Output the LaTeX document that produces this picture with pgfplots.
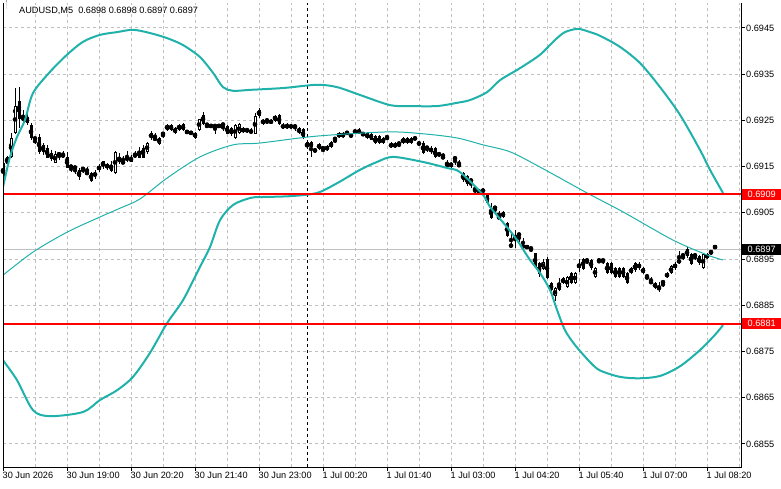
\documentclass[border=0pt]{standalone}
\usepackage{pgfplots}
\pgfplotsset{compat=1.18}
\usepackage{pgfplotstable}
\usepackage{fontspec}
\setmainfont{Liberation Sans}
\definecolor{band}{RGB}{32,178,170}
\definecolor{gridc}{RGB}{192,192,192}
\newcommand{\tf}{\fontsize{9.2}{11}\selectfont}

% prices in units of 0.0001 (6909 = 0.6909); x = bar index (5 min bars from 30 Jun 17:40)
\pgfplotstableread{
i o h l c
0 6912.7 6917.1 6911.0 6916.0
1 6917.1 6917.5 6915.1 6915.6
2 6917.1 6922.3 6916.9 6921.2
3 6922.3 6932.2 6922.1 6928.1
4 6929.2 6932.2 6923.4 6925.3
5 6926.2 6927.3 6924.4 6925.1
6 6925.7 6926.8 6924.0 6924.4
7 6924.0 6924.6 6920.8 6921.2
8 6921.2 6921.3 6919.9 6921.0
9 6921.4 6922.1 6917.9 6918.2
10 6919.7 6920.1 6917.5 6918.2
11 6919.2 6919.7 6916.9 6917.1
12 6918.2 6918.6 6916.4 6916.9
13 6916.0 6918.4 6915.8 6917.9
14 6917.7 6918.2 6916.4 6917.9
15 6917.1 6918.4 6916.9 6917.9
16 6917.1 6918.2 6914.7 6914.9
17 6915.1 6915.3 6913.8 6915.0
18 6914.9 6915.1 6913.6 6914.8
19 6914.3 6914.7 6912.1 6912.7
20 6914.7 6914.9 6913.8 6914.6
21 6913.8 6914.9 6913.6 6913.7
22 6913.8 6914.0 6911.9 6912.1
23 6913.0 6914.3 6912.5 6913.8
24 6915.1 6915.6 6913.8 6914.5
25 6915.1 6916.4 6914.7 6916.2
26 6915.6 6916.0 6914.5 6914.7
27 6915.6 6916.2 6913.8 6914.3
28 6913.8 6918.4 6913.6 6918.2
29 6917.1 6917.9 6915.6 6916.0
30 6916.0 6917.3 6915.8 6915.9
31 6916.4 6918.4 6916.0 6917.1
32 6916.2 6917.5 6916.0 6917.1
33 6917.9 6918.4 6916.9 6917.1
34 6918.6 6919.2 6916.9 6917.1
35 6919.2 6919.7 6916.9 6917.1
36 6918.2 6920.5 6917.9 6920.1
37 6921.2 6922.7 6920.8 6922.3
38 6921.0 6922.3 6920.8 6920.9
39 6920.1 6921.6 6919.9 6921.4
40 6922.3 6922.5 6921.2 6922.2
41 6924.2 6924.4 6922.9 6923.1
42 6924.2 6924.4 6922.9 6923.1
43 6922.3 6923.6 6922.1 6923.4
44 6924.2 6924.4 6922.9 6923.1
45 6924.2 6924.4 6922.7 6922.9
46 6922.3 6922.9 6922.1 6922.7
47 6922.3 6922.4 6922.2 6922.3
48 6921.4 6922.7 6921.2 6922.5
49 6923.1 6925.5 6922.9 6925.3
50 6926.2 6926.8 6924.0 6924.2
51 6924.0 6924.6 6923.8 6923.9
52 6924.2 6924.4 6923.4 6923.6
53 6924.2 6924.4 6922.3 6923.6
54 6924.2 6924.4 6923.4 6923.6
55 6924.2 6924.4 6922.9 6924.1
56 6924.0 6924.2 6922.1 6922.3
57 6923.4 6923.6 6921.8 6922.1
58 6921.2 6924.4 6921.0 6924.2
59 6922.3 6924.4 6922.1 6924.2
60 6923.4 6923.6 6922.3 6922.5
61 6923.1 6923.4 6922.3 6923.0
62 6922.3 6923.4 6922.1 6923.1
63 6922.3 6926.6 6922.1 6926.2
64 6927.3 6927.7 6925.7 6926.0
65 6925.3 6925.5 6924.2 6924.4
66 6925.1 6925.3 6924.4 6925.0
67 6924.4 6925.3 6924.2 6925.1
68 6926.2 6926.4 6924.9 6925.1
69 6926.2 6926.4 6924.0 6924.2
70 6923.4 6924.4 6923.1 6924.2
71 6923.4 6924.6 6923.2 6924.2
72 6923.4 6924.4 6923.2 6924.2
73 6923.3 6924.3 6922.9 6924.1
74 6923.4 6923.6 6922.1 6922.3
75 6923.1 6923.4 6921.0 6921.2
76 6920.3 6920.5 6918.8 6919.2
77 6920.3 6920.5 6917.1 6919.2
78 6918.6 6918.7 6918.5 6918.6
79 6919.0 6920.3 6918.8 6920.1
80 6919.0 6919.2 6918.2 6918.9
81 6918.6 6919.7 6918.4 6919.5
82 6919.2 6920.5 6919.0 6920.3
83 6921.0 6921.2 6920.3 6920.9
84 6922.3 6922.5 6921.2 6921.4
85 6922.3 6922.5 6921.2 6921.4
86 6922.3 6922.4 6922.2 6922.3
87 6921.8 6922.0 6921.7 6921.8
88 6922.7 6923.1 6922.1 6922.7
89 6923.1 6923.4 6922.1 6922.3
90 6922.1 6922.7 6921.8 6922.0
91 6922.3 6922.5 6921.0 6921.2
92 6922.3 6922.5 6920.8 6921.0
93 6921.6 6921.8 6919.9 6920.1
94 6921.6 6921.8 6919.9 6920.1
95 6921.2 6921.4 6919.9 6920.1
96 6921.4 6921.8 6921.2 6921.3
97 6920.1 6920.3 6919.0 6919.2
98 6920.1 6920.3 6919.0 6919.2
99 6920.1 6920.3 6919.2 6920.0
100 6921.2 6921.4 6919.9 6920.1
101 6921.2 6921.4 6919.9 6920.1
102 6921.2 6921.4 6919.9 6920.1
103 6921.2 6921.3 6921.1 6921.2
104 6920.1 6920.2 6920.0 6920.1
105 6920.1 6920.5 6917.7 6917.9
106 6919.2 6919.5 6918.2 6919.1
107 6919.2 6919.5 6917.9 6918.2
108 6919.0 6919.2 6916.9 6917.1
109 6917.9 6918.2 6917.1 6917.8
110 6917.1 6918.2 6916.9 6917.0
111 6916.0 6916.4 6914.9 6915.1
112 6915.1 6916.2 6914.9 6916.0
113 6916.9 6917.1 6915.4 6916.8
114 6915.4 6916.4 6915.1 6915.3
115 6913.6 6914.0 6911.9 6912.1
116 6913.0 6913.2 6910.8 6911.2
117 6912.1 6912.3 6910.6 6912.0
118 6910.2 6910.4 6909.3 6910.1
119 6909.3 6910.2 6909.1 6910.0
120 6909.5 6910.4 6909.3 6910.2
121 6908.9 6909.1 6906.9 6907.1
122 6906.3 6907.3 6903.7 6904.1
123 6906.3 6906.5 6905.0 6906.2
124 6904.1 6905.6 6903.9 6904.0
125 6905.2 6905.4 6903.9 6904.1
126 6902.8 6903.2 6899.8 6900.0
127 6898.0 6900.6 6897.8 6897.9
128 6900.2 6901.3 6897.4 6899.1
129 6900.4 6900.6 6898.7 6900.3
130 6897.8 6899.5 6897.6 6897.7
131 6897.4 6898.2 6897.2 6898.0
132 6897.4 6897.5 6896.7 6897.3
133 6896.3 6896.5 6893.1 6893.3
134 6894.1 6894.4 6891.1 6891.8
135 6893.1 6895.2 6892.8 6894.4
136 6895.2 6895.4 6890.7 6891.1
137 6889.8 6890.0 6888.1 6888.3
138 6887.0 6889.2 6886.1 6888.7
139 6889.8 6890.9 6888.1 6888.3
140 6889.8 6891.1 6889.6 6890.9
141 6888.9 6891.3 6888.7 6891.1
142 6892.0 6892.2 6889.8 6890.0
143 6890.0 6892.2 6889.8 6892.0
144 6893.1 6895.2 6892.2 6894.1
145 6895.2 6895.4 6892.8 6893.1
146 6894.8 6895.0 6893.9 6894.7
147 6894.8 6895.0 6892.8 6893.1
148 6891.1 6893.3 6890.9 6893.1
149 6894.8 6895.0 6894.1 6894.7
150 6895.0 6895.2 6894.1 6894.4
151 6894.1 6894.4 6891.8 6892.0
152 6894.1 6894.4 6891.8 6892.0
153 6893.1 6893.3 6890.9 6891.1
154 6893.1 6893.3 6890.9 6891.1
155 6893.1 6893.3 6890.9 6891.1
156 6892.0 6892.2 6889.8 6890.0
157 6892.0 6893.3 6891.8 6893.1
158 6894.1 6894.4 6892.4 6892.6
159 6893.1 6894.4 6892.8 6894.1
160 6893.1 6893.3 6891.8 6892.0
161 6891.1 6892.0 6890.9 6891.0
162 6890.0 6891.1 6889.8 6889.9
163 6890.0 6890.2 6888.7 6888.9
164 6888.9 6890.0 6887.9 6888.8
165 6890.0 6890.2 6888.9 6889.9
166 6891.1 6892.2 6890.9 6892.0
167 6892.0 6893.7 6891.8 6893.5
168 6893.1 6894.4 6892.8 6894.1
169 6894.6 6896.9 6894.1 6894.5
170 6895.9 6896.1 6894.8 6895.8
171 6897.2 6897.6 6895.4 6895.6
172 6896.1 6896.3 6893.9 6894.1
173 6895.9 6896.1 6895.0 6895.8
174 6895.6 6895.9 6893.9 6894.1
175 6893.1 6896.3 6892.8 6896.1
176 6895.2 6896.3 6895.0 6896.1
177 6896.7 6896.9 6895.9 6896.6
178 6897.9 6898.1 6897.2 6897.3
}\candles

\begin{document}
\begin{tikzpicture}
\path[use as bounding box] (-3bp,-22bp) rectangle (778bp,467bp);
\begin{axis}[
  at={(0,0)}, anchor=south west, scale only axis,
  width=738bp, height=464bp,
  % plotted y = price in pips minus 6900
  y filter/.expression={y-6900},
  xmin=0, xmax=184.5, ymin=-50, ymax=50.4,
  clip mode=individual,
  axis line style={draw=none},
  xtick={0,16,...,176},
  xticklabels={30 Jun 2026,30 Jun 19:00,30 Jun 20:20,30 Jun 21:40,30 Jun 23:00,1 Jul 00:20,1 Jul 01:40,1 Jul 03:00,1 Jul 04:20,1 Jul 05:40,1 Jul 07:00,1 Jul 08:20},
  minor xtick={8,24,...,184},
  ytick={-45,-35,...,45},
  yticklabels={0.6855,0.6865,0.6875,0.6885,0.6895,0.6905,0.6915,0.6925,0.6935,0.6945},
  xtick pos=left, ytick pos=right, yticklabel pos=right,
  tick align=outside, major tick length=4bp, minor tick length=0pt,
  tick style={black, line width=1bp},
  xmajorgrids, xminorgrids, ymajorgrids,
  major grid style={gridc, dash pattern=on 3bp off 3bp, line width=1bp},
  minor grid style={gridc, dash pattern=on 3bp off 3bp, line width=1bp},
  xticklabel style={anchor=north west, font=\tf, inner sep=0pt, xshift=-0.5bp, yshift=-1bp},
  yticklabel style={anchor=west, font=\tf, inner sep=0pt, xshift=1bp},
]
% current price line
\addplot[gridc, line width=1bp] coordinates {(0,6897) (184.5,6897)};
% day separator
\addplot[black, dash pattern=on 3bp off 3bp, line width=1bp] coordinates {(76,6850) (76,6950.4)};
% wicks
\addplot[only marks, mark=none, error bars/.cd, y dir=both, y explicit, error mark=none,
  error bar style={line width=1bp, black}]
  table[x=i, y expr={(\thisrow{h}+\thisrow{l})/2}, y error expr={(\thisrow{h}-\thisrow{l})/2}] {\candles};
% bodies
\addplot[only marks, mark=none, error bars/.cd, y dir=both, y explicit, error mark=none,
  error bar style={line width=3bp, black}]
  table[x=i, y expr={(\thisrow{o}+\thisrow{c})/2}, y error expr={max(abs(\thisrow{c}-\thisrow{o})/2,0.11)}] {\candles};
% hollow interiors of rising candles
\addplot[only marks, mark=none, error bars/.cd, y dir=both, y explicit, error mark=none,
  error bar style={line width=1bp, white}]
  table[x=i, y expr={(\thisrow{o}+\thisrow{c})/2}, y error expr={max((\thisrow{c}-\thisrow{o})/2-0.2165,0)}] {\candles};
% Bollinger bands
\addplot[band, line width=2bp, smooth] coordinates {
(0,6910.6) (1.75,6917.1) (3.5,6921.4) (5.5,6925.1) (7.5,6930.9) (11.75,6935.5) (16,6939.2) (20,6942.0) (24.25,6943.5) (28.5,6944.1) (32.5,6944.6) (36.75,6943.9) (41,6942.8) (45,6941.3) (49.25,6938.7) (52.5,6935.3) (55,6932.2) (57.5,6931.4) (61.75,6931.6) (70,6932.0) (78.5,6932.7) (83.5,6932.2) (89.25,6930.5) (96.75,6928.3) (101.75,6928.1) (108.5,6928.1) (113.5,6928.8) (116.75,6929.4) (121,6931.1) (124.25,6933.7) (129.25,6936.3) (134.25,6939.2) (138,6942.4) (140.5,6944.1) (143.75,6944.8) (146.75,6944.1) (149.25,6943.3) (154.25,6940.9) (159.25,6937.4) (164.25,6932.2) (169.25,6926.2) (174.25,6918.6) (176.75,6914.3) (180,6909.3)};
\addplot[band, line width=1bp, smooth] coordinates {
(0,6891.5) (7.5,6896.5) (16,6900.8) (24.25,6904.1) (29.25,6906.0) (34.25,6908.0) (41,6912.5) (49.25,6917.1) (57.5,6919.7) (64.25,6920.1) (78.5,6921.6) (96,6922.5) (105,6922.1) (113.5,6921.2) (120,6919.7) (126.75,6918.2) (134.25,6914.9) (146,6909.3) (155,6905.2) (167.5,6899.1) (176,6895.9) (180,6894.8)};
\addplot[band, line width=2bp, smooth] coordinates {
(0,6873.1) (3.5,6868.8) (7.5,6862.3) (11.75,6861.0) (20,6861.9) (24.25,6864.5) (28.5,6866.6) (32.5,6869.5) (36.75,6874.7) (41,6881.1) (45,6886.1) (49.25,6893.3) (51.75,6897.6) (54.25,6903.4) (57.5,6906.7) (61.75,6908.2) (64.25,6908.4) (71.75,6908.6) (78.5,6909.3) (83.5,6911.4) (89.25,6914.3) (93.5,6916.0) (97.5,6917.1) (105,6916.0) (111,6914.7) (114.25,6913.8) (120,6908.9) (121.75,6906.3) (126,6901.9) (128.5,6899.1) (131.75,6894.8) (134.25,6892.0) (136.75,6888.3) (138.5,6884.0) (140.5,6879.6) (143,6876.4) (146.75,6872.7) (149.25,6870.9) (154.25,6869.5) (159.25,6869.2) (164.25,6869.7) (169.25,6871.8) (174.25,6875.3) (178,6878.6) (180,6880.7)};
% horizontal levels
\addplot[red, line width=2bp] coordinates {(0,6909) (184.5,6909)};
\addplot[red, line width=2bp] coordinates {(0,6881) (184.5,6881)};
% frame
\draw[black, line width=1bp] (rel axis cs:0,1) -- (rel axis cs:0,0) -- (rel axis cs:1,0) -- (rel axis cs:1,1);
% price labels (axis cs y = price in pips minus 6900)
\node[fill=red, text=white, inner sep=0pt, minimum width=39bp, minimum height=11bp, anchor=west, font=\tf] at (axis cs:184.5,9) [xshift=1bp] {0.6909};
\node[fill=red, text=white, inner sep=0pt, minimum width=39bp, minimum height=11bp, anchor=west, font=\tf] at (axis cs:184.5,-19) [xshift=1bp] {0.6881};
\node[fill=black, text=white, inner sep=0pt, minimum width=39bp, minimum height=11bp, anchor=west, font=\tf] at (axis cs:184.5,-3) [xshift=1bp] {0.6897};
% title
\fill[black] (rel axis cs:0,1) ++(3bp,-6bp) -- ++(8bp,0) -- ++(-4bp,-4.5bp) -- cycle;
\node[anchor=west, inner sep=0pt, font=\tf] at (rel axis cs:0,1) [xshift=16bp, yshift=-7.5bp] {AUDUSD,M5\ \ 0.6898 0.6898 0.6897 0.6897};
\end{axis}
\end{tikzpicture}
\end{document}
